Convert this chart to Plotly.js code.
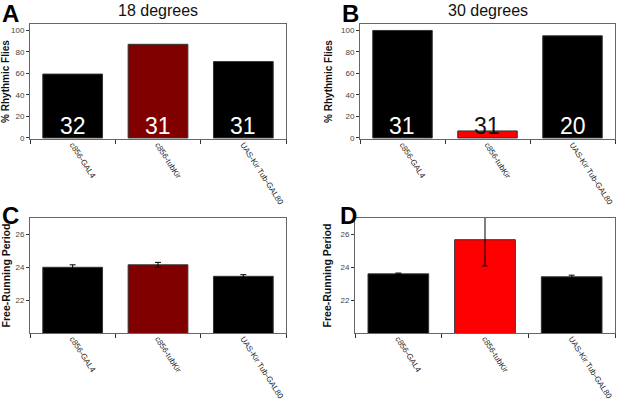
<!DOCTYPE html>
<html><head><meta charset="utf-8">
<script src="https://cdn.plot.ly/plotly-3.0.1.min.js"></script>
<style>body{margin:0;padding:0;background:#fff}#chart{width:617px;height:406px}</style>
</head><body><div id="chart"></div>
<script>
const genotypes = ["c856-GAL4", "c856-tubKir", "UAS-Kir Tub-GAL80"];
const rhythmic18 = [59.4, 87.1, 71.0];
const rhythmic30 = [100, 6.5, 95];
const nFlies18 = ["32", "31", "31"];
const nFlies30 = ["31", "31", "20"];
const period18 = [24.0, 24.15, 23.45];
const periodErr18 = [0.15, 0.15, 0.1];
const period30 = [23.6, 25.68, 23.42];
const periodErr30 = [0.05, 1.6, 0.1];
const colors18 = ["#000000", "#800000", "#000000"];
const colors30 = ["#000000", "#ff0000", "#000000"];
const nColors18 = ["#ffffff", "#ffffff", "#ffffff"];
const nColors30 = ["#ffffff", "#111111", "#ffffff"];

const W = 617, H = 406;
const fx = p => p / W, fy = p => 1 - p / H;

const barTrace = (x, y, colors, xa, ya, err) => {
  const t = {
    type: "bar", x: x, y: y, xaxis: xa, yaxis: ya, width: 0.7,
    marker: {color: colors, line: {color: "#333", width: 1}},
    showlegend: false, hoverinfo: "skip"
  };
  if (err) t.error_y = {type: "data", array: err, visible: true, color: "#000", thickness: 1, width: 3};
  return t;
};

const data = [
  barTrace(genotypes, rhythmic18, colors18, "x", "y"),
  barTrace(genotypes, rhythmic30, colors30, "x2", "y2"),
  barTrace(genotypes, period18, colors18, "x3", "y3", periodErr18),
  barTrace(genotypes, period30, colors30, "x4", "y4", periodErr30)
];

const xaxisBase = dom => ({
  domain: dom, type: "category", showline: true, mirror: true, linecolor: "#666", linewidth: 1,
  ticks: "outside", tickson: "boundaries", ticklen: 4, tickcolor: "#333", ticklabelstandoff: -3,
  tickangle: 57, tickfont: {size: 8, color: "#222", family: "Liberation Sans, Arial, sans-serif"},
  showgrid: false, fixedrange: true
});
const yaxisBase = (dom, range, tickvals, title, anchor) => ({
  domain: dom, range: range, anchor: anchor, showline: true, mirror: true, linecolor: "#666", linewidth: 1,
  ticks: "outside", ticklen: 3, tickcolor: "#333", tickvals: tickvals,
  tickfont: {size: 8, color: "#444", family: "Liberation Sans, Arial, sans-serif"},
  showgrid: false, zeroline: false,
  title: {text: title, font: {size: 10, color: "#111", family: "Liberation Sans, Arial, sans-serif", weight: "bold"}, standoff: 6}
});

const domA = [fx(30), fx(286)], domB = [fx(360), fx(615)];
const domC = [fx(30), fx(286)], domD = [fx(355), fx(615)];
const yTop = [fy(139), fy(24)], yBot = [fy(333), fy(218)];

const annotations = [];
const addN = (labels, colors, xa, ya) => labels.forEach((t, i) => annotations.push({
  x: genotypes[i], y: 0, xref: xa, yref: ya, text: t, showarrow: false, yanchor: "bottom", yshift: -3,
  font: {size: 23, color: colors[i], family: "Liberation Sans, Arial, sans-serif"}
}));
addN(nFlies18, nColors18, "x", "y");
addN(nFlies30, nColors30, "x2", "y2");

const letter = (t, x, y) => ({text: t, x: fx(x), y: fy(y), xref: "paper", yref: "paper", showarrow: false,
  xanchor: "left", yanchor: "top", font: {size: 24, color: "#000", family: "Liberation Sans, Arial, sans-serif", weight: "bold"}});
annotations.push(letter("A", 0, -2), letter("B", 340, -2), letter("C", 0, 200), letter("D", 338, 200));
const head = (t, x) => ({text: t, x: fx(x), y: fy(0), xref: "paper", yref: "paper", showarrow: false,
  xanchor: "center", yanchor: "top", font: {size: 16, color: "#111", family: "Liberation Sans, Arial, sans-serif"}});
annotations.push(head("18 degrees", 158), head("30 degrees", 488));

const layout = {
  width: W, height: H, margin: {l: 0, r: 0, t: 0, b: 0},
  paper_bgcolor: "#fff", plot_bgcolor: "#fff", bargap: 0.3,
  xaxis: Object.assign(xaxisBase(domA), {anchor: "y"}),
  yaxis: yaxisBase(yTop, [-1, 106], [0, 20, 40, 60, 80, 100], "% Rhythmic Flies", "x"),
  xaxis2: Object.assign(xaxisBase(domB), {anchor: "y2"}),
  yaxis2: yaxisBase(yTop, [-1, 106], [0, 20, 40, 60, 80, 100], "% Rhythmic Flies", "x2"),
  xaxis3: Object.assign(xaxisBase(domC), {anchor: "y3"}),
  yaxis3: yaxisBase(yBot, [20, 27], [22, 24, 26], "Free-Running Period", "x3"),
  xaxis4: Object.assign(xaxisBase(domD), {anchor: "y4"}),
  yaxis4: yaxisBase(yBot, [20, 27], [22, 24, 26], "Free-Running Period", "x4"),
  annotations: annotations
};
layout.yaxis3.title.font.size = 10.5;
layout.yaxis4.title.font.size = 10.5;

Plotly.newPlot("chart", data, layout, {staticPlot: true, displayModeBar: false});
</script></body></html>
